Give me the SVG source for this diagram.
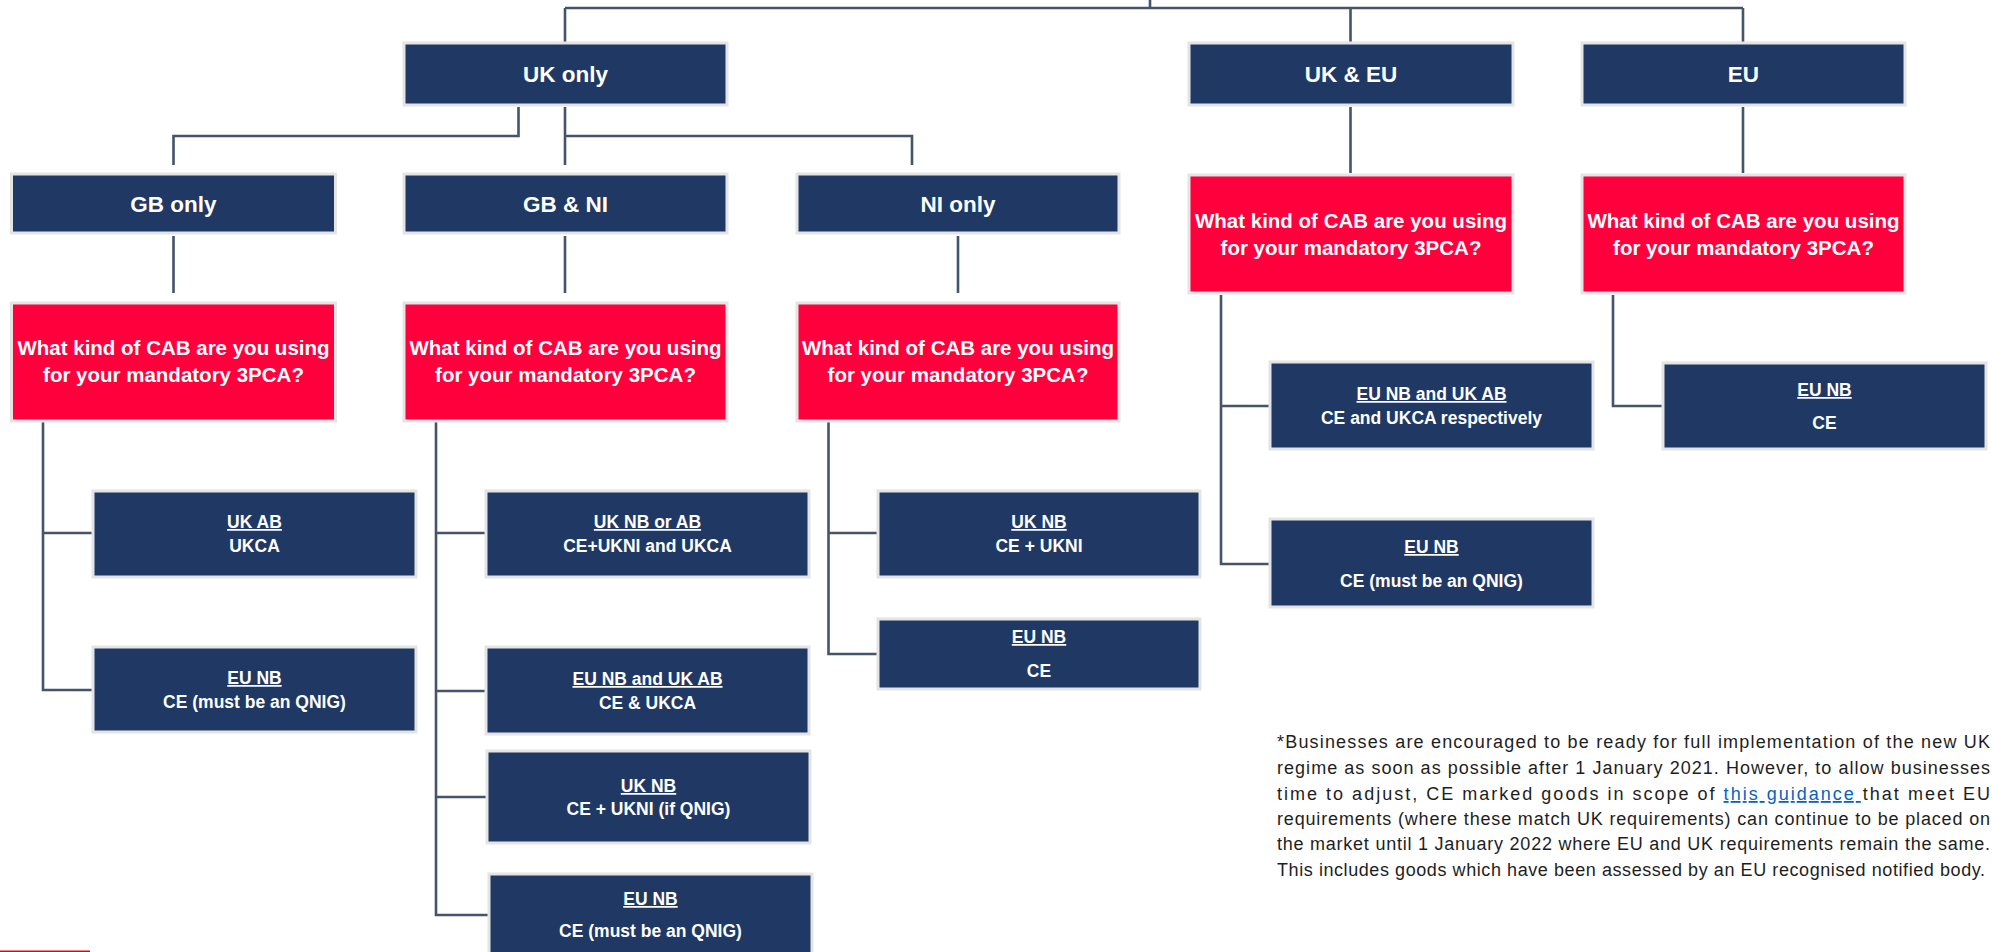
<svg xmlns="http://www.w3.org/2000/svg" width="1992" height="952" viewBox="0 0 1992 952">
<style>
.box{fill:#203864;stroke:#E4E4E4;stroke-width:3}
.red{fill:#FF003C;stroke:#E4E4E4;stroke-width:3}
.lbl{font-family:'Liberation Sans',Arial,sans-serif;font-weight:bold;fill:#fff;text-anchor:middle}
.t1{font-size:22.5px}
.t2{font-size:20.5px}
.t3{font-size:17.5px}
.u{text-decoration:underline}
.con{fill:none;stroke:#44546A;stroke-width:2.6}
.note{font-family:'Liberation Sans',Arial,sans-serif;font-size:18px;fill:#1e1e1e}
.link{fill:#0563C1;text-decoration:underline}
</style>
<rect width="1992" height="952" fill="#fff"/>
<g id="connectors" class="con">
<path d="M1150,0V8M565,8H1743M565,8V42M1350.5,8V42M1743,8V42"/>
<path d="M518.5,107V136H173.5V165M565,107V165M565,136H912V165"/>
<path d="M173.5,236V293M565,236V293M958,236V293M1350.5,107V173M1743,107V173"/>
<path d="M43,422V690H92M43,533H92"/>
<path d="M436,422V915H488M436,533H485M436,691H485M436,797H486"/>
<path d="M828.5,422V654H877M828.5,533H877"/>
<path d="M1221,295V564H1269M1221,406H1269"/>
<path d="M1613,295V406H1662"/>
</g>
<g id="uk-only"><rect class="box" x="404" y="43" width="323" height="62"/><text class="lbl t1" x="565.5" y="82">UK only</text></g>
<g id="uk-eu"><rect class="box" x="1189" y="43" width="324" height="62"/><text class="lbl t1" x="1351" y="82">UK &amp; EU</text></g>
<g id="eu"><rect class="box" x="1582" y="43" width="323" height="62"/><text class="lbl t1" x="1743.5" y="82">EU</text></g>
<g id="gb-only"><rect class="box" x="11.5" y="174" width="324" height="59"/><text class="lbl t1" x="173.5" y="212">GB only</text></g>
<g id="gb-ni"><rect class="box" x="404" y="174" width="323" height="59"/><text class="lbl t1" x="565.5" y="212">GB &amp; NI</text></g>
<g id="ni-only"><rect class="box" x="797" y="174" width="322" height="59"/><text class="lbl t1" x="958" y="212">NI only</text></g>
<g id="q-gb"><rect class="red" x="11.5" y="303" width="324" height="118"/><text class="lbl t2" x="173.5" y="355">What kind of CAB are you using</text><text class="lbl t2" x="173.5" y="381.5">for your mandatory 3PCA?</text></g>
<g id="q-gbni"><rect class="red" x="404" y="303" width="323" height="118"/><text class="lbl t2" x="565.5" y="355">What kind of CAB are you using</text><text class="lbl t2" x="565.5" y="381.5">for your mandatory 3PCA?</text></g>
<g id="q-ni"><rect class="red" x="797" y="303" width="322" height="118"/><text class="lbl t2" x="958" y="355">What kind of CAB are you using</text><text class="lbl t2" x="958" y="381.5">for your mandatory 3PCA?</text></g>
<g id="q-ukeu"><rect class="red" x="1189" y="175" width="324" height="118"/><text class="lbl t2" x="1351" y="228">What kind of CAB are you using</text><text class="lbl t2" x="1351" y="255">for your mandatory 3PCA?</text></g>
<g id="q-eu"><rect class="red" x="1582" y="175" width="323" height="118"/><text class="lbl t2" x="1743.5" y="228">What kind of CAB are you using</text><text class="lbl t2" x="1743.5" y="255">for your mandatory 3PCA?</text></g>
<g id="gb-ukab"><rect class="box" x="93" y="491" width="323" height="86"/><text class="lbl t3 u" x="254.5" y="528">UK AB</text><text class="lbl t3" x="254.5" y="552">UKCA</text></g>
<g id="gb-eunb"><rect class="box" x="93" y="647" width="323" height="85"/><text class="lbl t3 u" x="254.5" y="684">EU NB</text><text class="lbl t3" x="254.5" y="708">CE (must be an QNIG)</text></g>
<g id="gbni-uknbab"><rect class="box" x="486" y="491" width="323" height="86"/><text class="lbl t3 u" x="647.5" y="528">UK NB or AB</text><text class="lbl t3" x="647.5" y="552">CE+UKNI and UKCA</text></g>
<g id="gbni-eunbukab"><rect class="box" x="486" y="647" width="323" height="87"/><text class="lbl t3 u" x="647.5" y="685">EU NB and UK AB</text><text class="lbl t3" x="647.5" y="709">CE &amp; UKCA</text></g>
<g id="gbni-uknb"><rect class="box" x="487" y="751" width="323" height="92"/><text class="lbl t3 u" x="648.5" y="792">UK NB</text><text class="lbl t3" x="648.5" y="815">CE + UKNI (if QNIG)</text></g>
<g id="gbni-eunb"><rect class="box" x="489" y="874" width="323" height="90"/><text class="lbl t3 u" x="650.5" y="905">EU NB</text><text class="lbl t3" x="650.5" y="937">CE (must be an QNIG)</text></g>
<g id="ni-uknb"><rect class="box" x="878" y="491" width="322" height="86"/><text class="lbl t3 u" x="1039" y="528">UK NB</text><text class="lbl t3" x="1039" y="552">CE + UKNI</text></g>
<g id="ni-eunb"><rect class="box" x="878" y="619" width="322" height="70"/><text class="lbl t3 u" x="1039" y="643">EU NB</text><text class="lbl t3" x="1039" y="677">CE</text></g>
<g id="ukeu-both"><rect class="box" x="1270" y="362" width="323" height="87"/><text class="lbl t3 u" x="1431.5" y="400">EU NB and UK AB</text><text class="lbl t3" x="1431.5" y="424">CE and UKCA respectively</text></g>
<g id="ukeu-eunb"><rect class="box" x="1270" y="519" width="323" height="88"/><text class="lbl t3 u" x="1431.5" y="553">EU NB</text><text class="lbl t3" x="1431.5" y="587">CE (must be an QNIG)</text></g>
<g id="eu-eunb"><rect class="box" x="1663" y="363" width="323" height="86"/><text class="lbl t3 u" x="1824.5" y="396">EU NB</text><text class="lbl t3" x="1824.5" y="429">CE</text></g>
<g id="footnote">
<text class="note" x="1277" y="748" textLength="713" lengthAdjust="spacing">*Businesses are encouraged to be ready for full implementation of the new UK</text>
<text class="note" x="1277" y="774" textLength="713" lengthAdjust="spacing">regime as soon as possible after 1 January 2021. However, to allow businesses</text>
<text class="note" x="1277" y="800" textLength="713" lengthAdjust="spacing">time to adjust, CE marked goods in scope of <tspan class="link">this guidance </tspan>that meet EU</text>
<text class="note" x="1277" y="825" textLength="713" lengthAdjust="spacing">requirements (where these match UK requirements) can continue to be placed on</text>
<text class="note" x="1277" y="850" textLength="713" lengthAdjust="spacing">the market until 1 January 2022 where EU and UK requirements remain the same.</text>
<text class="note" x="1277" y="876" textLength="708" lengthAdjust="spacing">This includes goods which have been assessed by an EU recognised notified body.</text>
</g>
<rect x="0" y="950.5" width="90" height="1.5" fill="#E8001C"/>
</svg>
